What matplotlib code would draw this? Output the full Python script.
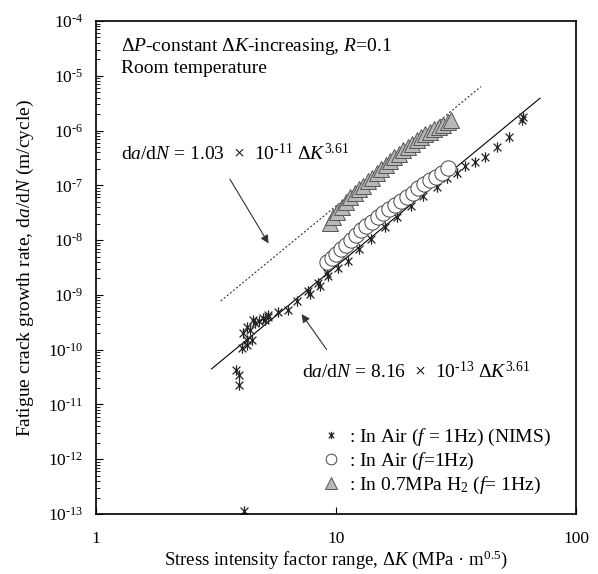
import numpy as np
import matplotlib.pyplot as plt
from matplotlib.path import Path
from matplotlib.ticker import LogLocator, FixedLocator, NullLocator

plt.rcParams['font.family'] = ['Liberation Serif', 'DejaVu Serif']
plt.rcParams['mathtext.fontset'] = 'custom'
plt.rcParams['mathtext.rm'] = 'Liberation Serif'
plt.rcParams['mathtext.it'] = 'Liberation Serif:italic'
plt.rcParams['mathtext.bf'] = 'Liberation Serif:bold'

# ---------------------------------------------------------------
# Datos
# ---------------------------------------------------------------
# In Air (f = 1Hz) (NIMS)
nims_dk = [3.83, 3.95, 3.95, 4.14,
           4.05, 4.11, 4.25, 4.25, 4.25, 4.38, 4.45, 4.52, 4.6, 4.8,
           4.98, 5.06, 5.22, 5.22, 5.75, 6.33, 6.9, 7.67, 7.8, 8.44,
           8.6, 9.15, 9.3, 10.2,
           11.2, 12.5, 14.0, 16.0, 18.0, 20.5, 23.0,
           26.3, 28.9, 31.8, 34.5, 37.9, 41.8, 46.8, 52.6, 59.3, 60.4]
nims_dadn = [4.3e-11, 3.5e-11, 2.3e-11, 1.15e-13,
             1.06e-10, 2.0e-10, 2.64e-10, 1.51e-10, 1.22e-10, 2.3e-10, 1.51e-10, 3.5e-10, 3.1e-10, 3.3e-10,
             3.76e-10, 3.5e-10, 4.3e-10, 4.0e-10, 4.96e-10, 5.3e-10, 7.9e-10, 1.18e-9, 1.05e-9, 1.63e-9,
             1.45e-9, 2.49e-9, 2.2e-9, 3.07e-9,
             4.2e-9, 6.8e-9, 1.05e-8, 1.7e-8, 2.6e-8, 4.2e-8, 6.3e-8,
             9.5e-8, 1.39e-7, 1.66e-7, 2.26e-7, 2.67e-7, 3.34e-7, 5.0e-7, 7.7e-7, 1.56e-6, 1.77e-6]

# In Air (f=1Hz)
air_dk = [9.15, 9.60, 10.0, 10.46, 10.97, 11.5, 12.1, 12.7, 13.4, 14.1, 14.9, 15.7,
          16.6, 17.6, 18.6, 19.7, 20.9, 22.0, 23.3, 24.6, 26.1, 27.6, 29.4]
air_dadn = [4.05e-9, 4.68e-9, 5.6e-9, 6.8e-9, 8.2e-9, 1.01e-8, 1.24e-8, 1.54e-8, 1.84e-8,
            2.18e-8, 2.62e-8, 3.1e-8, 3.66e-8, 4.39e-8, 5.19e-8, 6.2e-8, 7.4e-8, 8.9e-8,
            1.06e-7, 1.26e-7, 1.44e-7, 1.71e-7, 2.05e-7]

# In 0.7MPa H2 (f= 1Hz)
h2_dk = [9.44, 9.75, 10.12, 10.56, 11.0, 11.4, 12.0, 12.5, 13.0, 13.55, 14.1, 14.8,
         15.4, 16.1, 16.8, 17.5, 18.3, 19.1, 19.9, 20.8, 21.7, 22.6, 23.6, 24.6,
         25.7, 26.9, 28.0, 29.2, 30.1]
h2_dadn = [2.03e-8, 2.69e-8, 3.31e-8, 4.09e-8, 4.98e-8, 6.0e-8, 7.1e-8, 8.4e-8, 9.9e-8,
           1.18e-7, 1.39e-7, 1.65e-7, 1.95e-7, 2.31e-7, 2.73e-7, 3.23e-7, 3.74e-7, 4.33e-7,
           5.0e-7, 5.8e-7, 6.6e-7, 7.5e-7, 8.5e-7, 9.4e-7, 1.05e-6, 1.16e-6, 1.29e-6,
           1.44e-6, 1.56e-6]

# Leyes de Paris indicadas en la figura: da/dN = C * dK^m
C_aire, C_h2, m_paris = 8.16e-13, 1.03e-11, 3.61
dk_linea_aire = np.array([3.03, 70.8])
dk_linea_h2 = np.array([3.31, 40.2])

# ---------------------------------------------------------------
# Marcador tipo asterisco (x + linea vertical)
# ---------------------------------------------------------------
d = 0.75
marcador_ast = Path([(0, -1), (0, 1), (-d, -d), (d, d), (-d, d), (d, -d)],
                    [Path.MOVETO, Path.LINETO, Path.MOVETO, Path.LINETO,
                     Path.MOVETO, Path.LINETO])

fig = plt.figure(figsize=(5.98, 5.74), dpi=100)
ax = fig.add_axes([0.1605, 0.1045, 0.8027, 0.8589])

ax.plot(dk_linea_aire, C_aire * dk_linea_aire**m_paris, color='black', lw=0.8)
ax.plot(dk_linea_h2, C_h2 * dk_linea_h2**m_paris, color='#333333', lw=0.8,
        linestyle=(0, (1.8, 1.8)))

ax.plot(nims_dk, nims_dadn, linestyle='none', marker=marcador_ast, markersize=7.5,
        markeredgecolor='#222222', markeredgewidth=0.9,
        label=r': In Air ($f$ = 1Hz) (NIMS)')
ax.plot(air_dk, air_dadn, linestyle='none', marker='o', markersize=11,
        markerfacecolor='white', markeredgecolor='#444444', markeredgewidth=0.7,
        label=r': In Air ($f$=1Hz)')
ax.plot(h2_dk, h2_dadn, linestyle='none', marker='^', markersize=12,
        markerfacecolor='#b8b8b8', markeredgecolor='#555555', markeredgewidth=0.7,
        label=r': In 0.7MPa H$_2$ ($f$= 1Hz)')

ax.set_xscale('log')
ax.set_yscale('log')
ax.set_xlim(1, 100)
ax.set_ylim(1e-13, 1e-4)

ax.xaxis.set_major_locator(FixedLocator([1, 10, 100]))
ax.xaxis.set_minor_locator(NullLocator())
ax.set_xticklabels(['1', '10', '100'])
yt = [10.0**e for e in range(-13, -3)]
ax.yaxis.set_major_locator(FixedLocator(yt))
ax.yaxis.set_minor_locator(LogLocator(base=10, subs=np.arange(2, 10), numticks=20))
ax.set_yticklabels([r'10$^{\text{-}%d}$' % (-e) for e in range(-13, -3)])

ax.tick_params(which='both', direction='in', labelsize=12.5, color='black')
ax.tick_params(axis='x', which='major', length=5, pad=12)
ax.tick_params(axis='y', which='major', length=5, pad=9)
ax.tick_params(axis='y', which='minor', length=3)
for s in ax.spines.values():
    s.set_linewidth(1.2)

ax.set_xlabel(r'Stress intensity factor range, $\Delta K$ (MPa · m$^{0.5}$)', fontsize=13.5, labelpad=1)
ax.set_ylabel(r'Fatigue crack growth rate, d$a$/d$N$ (m/cycle)', fontsize=14, labelpad=9)

ax.text(0.053, 0.948, r'$\Delta P$-constant $\Delta K$-increasing, $R$=0.1', transform=ax.transAxes,
        fontsize=14, va='center', ha='left')
ax.text(0.053, 0.904, 'Room temperature', transform=ax.transAxes,
        fontsize=14, va='center', ha='left')

ax.text(0.053, 0.732, r'd$a$/d$N$ = 1.03  $\times$  10$^{\text{-}11}$ $\Delta K^{3.61}$', transform=ax.transAxes,
        fontsize=14, va='center', ha='left')
ax.annotate('', xy=(0.3625, 0.544), xytext=(0.276, 0.684), xycoords='axes fraction',
            arrowprops=dict(arrowstyle='-|>', color='#333333', lw=0.8, mutation_scale=12))

ax.text(0.4285, 0.289, r'd$a$/d$N$ = 8.16  $\times$  10$^{\text{-}13}$ $\Delta K^{3.61}$', transform=ax.transAxes,
        fontsize=14, va='center', ha='left')
ax.annotate('', xy=(0.425, 0.41), xytext=(0.484, 0.329), xycoords='axes fraction',
            arrowprops=dict(arrowstyle='-|>', color='#333333', lw=0.8, mutation_scale=12))

ax.legend(loc='upper left', bbox_to_anchor=(0.47, 0.177), frameon=False, fontsize=14,
          handlelength=1.0, handletextpad=0.4, labelspacing=0.15, borderpad=0,
          borderaxespad=0, markerscale=0.7)

plt.savefig('out.png', dpi=100)
